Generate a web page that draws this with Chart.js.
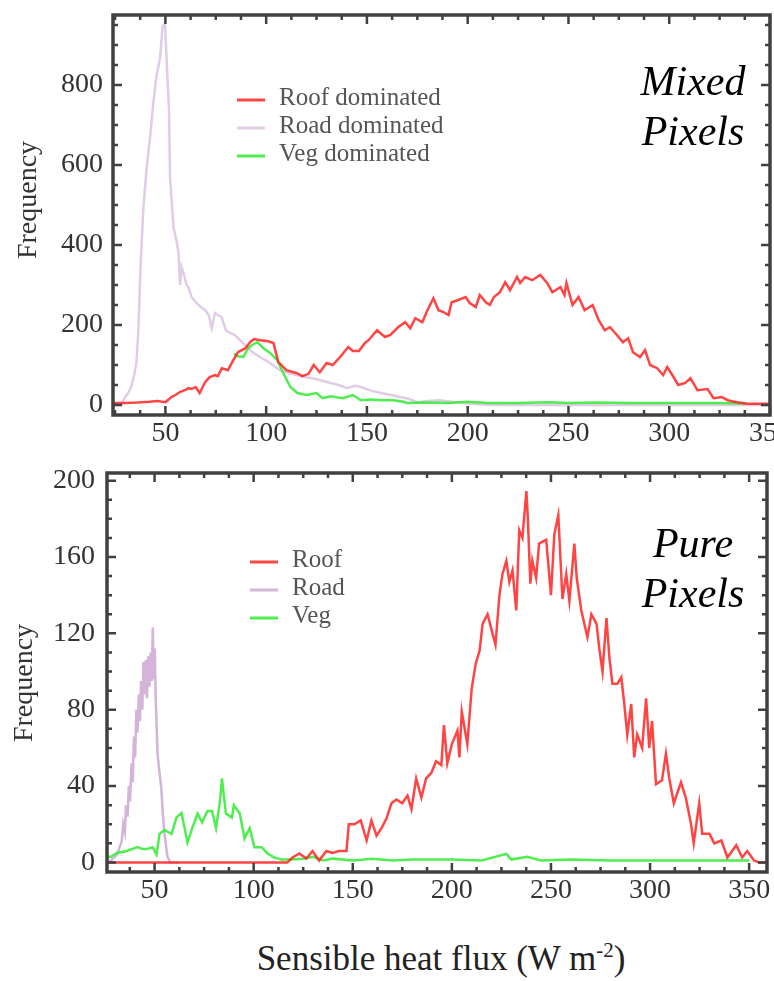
<!DOCTYPE html>
<html>
<head>
<meta charset="utf-8">
<script src="https://cdn.jsdelivr.net/npm/chart.js@4.4.1/dist/chart.umd.min.js"></script>
<style>
body{margin:0;background:#fff}
#wrap{position:relative;width:774px;height:981px;overflow:hidden;background:#fff}
#c1{position:absolute;left:0;top:0}
#c2{position:absolute;left:0;top:460px}
#xt{position:absolute;left:441px;top:941px;transform:translateX(-50%);white-space:nowrap;font:35px/35px "Liberation Serif",serif;color:#222}
#xt span{font-size:21px;position:relative;top:-13px}
</style>
</head>
<body>
<div id="wrap">
<canvas id="c1" width="774" height="450"></canvas>
<canvas id="c2" width="774" height="460"></canvas>
<div id="xt">Sensible heat flux (W m<span>-2</span>)</div>
</div>
<script>
// tick labels
const xTicks=[50,100,150,200,250,300,350];
const topYTicks=[0,200,400,600,800];
const botYTicks=[0,40,80,120,160,200];
const topLabels=['Roof dominated','Road dominated','Veg dominated'];
const botLabels=['Roof','Road','Veg'];
const notes=[['Mixed','Pixels'],['Pure','Pixels']];

// [flux W m-2, frequency]
const topRoof=[[24,5],[30,5],[36,6],[42,8],[46,10],[50,7],[53,20],[55,25],[57.4,33],[60,38],[61.4,42],[63,40],[65,45],[67,30],[69.7,57],[72,70],[74.6,75],[76,72],[78,92],[81,87],[83.7,112],[86,132],[89.7,142],[92,157],[94,165],[97,162],[100.5,160],[103.6,155],[106,108],[110,87],[113.6,82],[115,80],[118,72],[121,78],[123.6,100],[126.6,82],[130,105],[133,100],[136.7,120],[140.7,145],[143,135],[146,135],[149,155],[150.8,162],[155,187],[159,170],[161.6,175],[165.6,195],[169,207],[171.5,192],[174,217],[177.5,207],[180,237],[183,267],[185.5,237],[188,232],[190.5,225],[192,257],[195,262],[199,270],[201,255],[204,245],[206,275],[209,257],[211,250],[213,270],[216,282],[218.6,307],[221,287],[224.5,320],[226,305],[228.5,320],[232,312],[236,325],[239.4,305],[242,282],[246,295],[248,275],[249,305],[252,250],[255,270],[258,237],[262,250],[265,212],[268,187],[270.6,195],[274,175],[277,157],[279.6,167],[282,132],[285.5,120],[288,137],[290.5,100],[294,92],[297,75],[299,95],[301.5,75],[304.5,50],[308,55],[310.5,67],[314,37],[319,40],[322,17],[326,20],[329,12],[333.6,7],[338.6,3],[345,3],[350,3]];
const topRoad=[[24,0],[28,0],[30,20],[31.5,30],[33,45],[34.5,75],[35.6,105],[36.6,187],[37.6,337],[39,487],[40.6,587],[42.4,670],[44,755],[45.5,820],[47.4,870],[48.6,945],[49.8,955],[50.6,862],[51.8,737],[52.3,570],[54,445],[55.5,412],[56.5,380],[57.3,300],[58,345],[59,330],[60.5,300],[61.4,295],[63,270],[65.4,255],[67.5,245],[69.7,237],[71.5,225],[73,192],[74.6,230],[76,225],[77.9,220],[80,187],[82,180],[84.5,175],[87,162],[89.5,150],[92,137],[94.5,128],[97,120],[99.5,112],[102,105],[104.5,95],[107,87],[111,80],[115,75],[119,70],[123,67],[127,62],[132,55],[136,50],[140,42],[144,48],[147,45],[152,36],[157,30],[162,25],[166.5,20],[171,15],[175,7],[180,10],[186,12],[192,8],[198,5],[205,2],[215,0],[260,0],[350,0]];
const topVeg=[[84,128],[86,122],[88.7,120],[91,142],[93,150],[95.6,157],[98.6,142],[102,130],[105.5,112],[108.5,80],[112,45],[115.5,30],[120,25],[125,30],[128,17],[132,22],[138,17],[143,25],[147,12],[152,14],[157,12],[163,12],[168,8],[170,5],[180,6],[190,5],[200,8],[210,5],[225,5],[240,7],[250,5],[265,6],[280,5],[295,5],[310,5],[325,5],[338,4]];
const botRoof=[[26,0],[60,0],[100,0],[117,0],[119.6,2.6],[123,4.7],[126.6,2],[129.7,6],[133,1],[136.7,6],[139.8,5],[143,6],[146.8,6],[148,20],[150.8,20],[154,22],[157,11.5],[159.4,22],[162,14],[164.5,18],[167,23],[169.5,31],[172,33],[175,31],[177.6,35],[179.6,28],[182,44],[184.6,34],[187,44],[189.7,47],[192,53],[194.7,51],[196,72],[197.7,52],[200,62],[202.8,69],[203.8,55],[205,79],[207.8,62],[210,91],[212,104],[214,111],[215.5,125],[218,130],[220.5,120],[222,114],[224,140],[225.5,151],[227.5,158],[229,147],[230.6,153],[232.5,132],[234,174],[235.6,170],[237.6,194.5],[238.3,181],[239.6,146],[240.6,158],[242.5,149],[244,167],[247.6,169],[250,140],[251.7,172],[253.7,182],[255.8,138],[257.7,151],[259.3,137],[261.8,167],[263,149],[265.3,132],[268.4,118],[270.4,130],[273,125],[274.4,112],[276,100],[278,128],[279.5,107],[281,93.6],[283.5,93.6],[285.5,97],[287,83],[288.5,67],[290.5,83],[292,55],[293.5,67],[296,60],[298,86],[299.6,60],[301,74],[303,41],[306,43],[308,57],[309.7,44],[312,31],[315.6,42],[318,34],[320.7,20],[322,10],[324.8,31],[326.3,15],[330,15],[332.4,10],[336,11.5],[339,2.6],[343.5,9],[346.5,2.6],[349,6],[352.5,1],[355,0],[359,0]];
const botRoad=[[26,0],[28,1],[31,4],[33.4,11],[34.2,20],[35,16],[35.6,30],[36.4,24],[37,40],[37.6,32],[38.4,52],[39,42],[39.6,66],[40.2,55],[40.8,80],[41.4,68],[42,88],[42.6,74],[43.2,95],[43.8,80],[44.4,105],[45,88],[45.6,106],[46.2,86],[46.8,108],[47.4,92],[48,110],[48.6,95],[49.1,123],[49.6,96],[50.1,112],[50.6,85],[51.5,57],[52.4,48],[53.4,39],[54.2,25],[55,15],[56.5,3],[58,0],[62,0]];
const botVeg=[[26,3],[28,3],[31,5],[36,6],[41.4,8],[44,7],[46,7],[49,8],[51,4],[52.5,15],[55,17],[58.6,15],[61,23.5],[63.6,26],[66.6,10.5],[69,18],[71.7,25.6],[74,21],[76.7,27],[79,27],[81,18],[83,32],[84,44],[86,25.6],[89,23.5],[90,30],[93,25.6],[95.4,12.5],[98,18],[100.4,8],[104,8],[107,4.7],[110.5,2.6],[114,1.5],[119,1.5],[125,2],[130,3],[135,1],[140,2],[150,1],[160,2],[170,1],[180,1.5],[200,1.5],[215,1],[227.5,4.5],[230,1.5],[238,3],[245,1],[260,1.5],[280,1],[300,1],[320,1],[340,1],[350,1]];

const RED='rgba(255,35,35,0.85)',GREEN='rgba(60,235,60,0.9)';
const SERIF='"Liberation Serif","Times New Roman",serif';
const pts=a=>a.map(p=>({x:p[0],y:p[1]}));

// frame with inward ticks, in-plot legend, panel note and y title
const deco={id:'deco',afterDraw(c,args,o){
 const {ctx,chartArea:ca,scales:{x,y}}=c;
 ctx.save();
 ctx.strokeStyle='#404040';ctx.lineWidth=2.5;ctx.beginPath();
 for(let v=Math.ceil(x.min/o.xStep)*o.xStep;v<=x.max+0.01;v+=o.xStep){
  const px=x.getPixelForValue(v),l=v%o.xMajor===0?9:5;
  ctx.moveTo(px,ca.bottom);ctx.lineTo(px,ca.bottom-l);ctx.moveTo(px,ca.top);ctx.lineTo(px,ca.top+l);
 }
 for(let v=Math.ceil(y.min/o.yStep)*o.yStep;v<=y.max+0.01;v+=o.yStep){
  const py=y.getPixelForValue(v),l=v%o.yMajor===0?9:5;
  ctx.moveTo(ca.left,py);ctx.lineTo(ca.left+l,py);ctx.moveTo(ca.right,py);ctx.lineTo(ca.right-l,py);
 }
 ctx.stroke();
 ctx.lineWidth=3.5;ctx.strokeRect(ca.left,ca.top,ca.right-ca.left,ca.bottom-ca.top);
 ctx.font='25px '+SERIF;ctx.textBaseline='alphabetic';ctx.textAlign='left';
 c.data.datasets.forEach((d,i)=>{
  const yb=o.legY+i*o.legDy;
  ctx.strokeStyle=d.borderColor;ctx.lineWidth=3;
  ctx.beginPath();ctx.moveTo(o.legX,yb-5);ctx.lineTo(o.legX+28,yb-5);ctx.stroke();
  ctx.fillStyle='#555';ctx.fillText(d.label,o.legX+42,yb);
 });
 ctx.font='italic 42px '+SERIF;ctx.fillStyle='#000';ctx.textAlign='center';
 o.note.forEach((t,i)=>ctx.fillText(t,o.noteX,o.noteY[i]));
 ctx.font='28px '+SERIF;ctx.fillStyle='#333';
 ctx.translate(o.ytX,o.ytY);ctx.rotate(-Math.PI/2);ctx.fillText('Frequency',0,0);
 ctx.restore();
}};

function makeChart(id,sets,o){
 return new Chart(document.getElementById(id),{type:'line',
  data:{datasets:sets},
  options:{responsive:false,animation:false,
   layout:{padding:{top:o.top,right:o.right,left:0,bottom:0}},
   elements:{point:{radius:0},line:{borderWidth:2.5,tension:0}},
   plugins:{legend:{display:false},tooltip:{enabled:false},deco:o.deco},
   scales:{
    x:{type:'linear',min:o.xMin,max:o.xMax,grid:{display:false,drawTicks:false},border:{display:false},
     afterBuildTicks:s=>{s.ticks=xTicks.map(v=>({value:v}))},
     afterFit:s=>{s.height=o.xH;s.paddingLeft=0;s.paddingRight=0},
     ticks:{autoSkip:false,maxRotation:0,padding:o.xPad,color:'#333',font:{family:SERIF,size:28}}},
    y:{type:'linear',min:o.yMin,max:o.yMax,grid:{display:false,drawTicks:false},border:{display:false},
     afterBuildTicks:s=>{s.ticks=o.yTicks.map(v=>({value:v}))},
     afterFit:s=>{s.width=o.yW;s.paddingTop=0;s.paddingBottom=0},
     ticks:{padding:o.yPad,color:'#333',font:{family:SERIF,size:28}}}}},
  plugins:[deco]});
}

makeChart('c1',[
 {label:topLabels[0],data:pts(topRoof),borderColor:RED,order:0},
 {label:topLabels[1],data:pts(topRoad),borderColor:'rgb(224,204,228)',order:2},
 {label:topLabels[2],data:pts(topVeg),borderColor:GREEN,order:1}
],{top:15,right:4,xH:35,yW:113,xMin:24,xMax:350,yMin:-25,yMax:975,yTicks:topYTicks,xPad:2,yPad:10,
 deco:{xStep:12.5,xMajor:50,yStep:50,yMajor:200,legX:237,legY:105,legDy:28,note:notes[0],noteX:693,noteY:[95,145],ytX:36,ytY:200}});

makeChart('c2',[
 {label:botLabels[0],data:pts(botRoof),borderColor:RED,order:0},
 {label:botLabels[1],data:pts(botRoad),borderColor:'rgb(212,180,216)',order:2},
 {label:botLabels[2],data:pts(botVeg),borderColor:GREEN,order:1}
],{top:13,right:7,xH:48,yW:107,xMin:26,xMax:359,yMin:-5,yMax:204,yTicks:botYTicks,xPad:2,yPad:12,
 deco:{xStep:12.5,xMajor:50,yStep:10,yMajor:40,legX:250,legY:107,legDy:28,note:notes[1],noteX:693,noteY:[97,147],ytX:31.5,ytY:223}});
</script>
</body>
</html>
